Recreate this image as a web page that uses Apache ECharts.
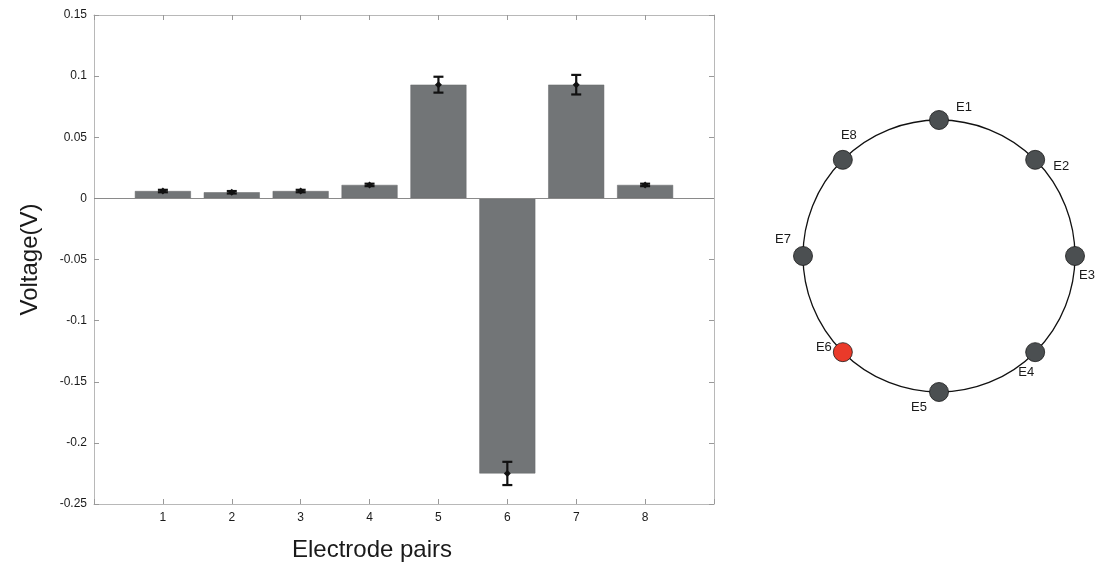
<!DOCTYPE html>
<html>
<head>
<meta charset="utf-8">
<script src="https://cdn.jsdelivr.net/npm/echarts@6/dist/echarts.min.js"></script>
<style>html,body{margin:0;padding:0;background:#fff;}#c{width:1095px;height:567px;}</style>
</head>
<body>
<div id="c"></div>
<script>
// ---- data ----
var pairs = [1, 2, 3, 4, 5, 6, 7, 8];
var voltages = [0.006, 0.005, 0.006, 0.011, 0.093, -0.225, 0.093, 0.011];
var errors = [0.001, 0.001, 0.001, 0.001, 0.0065, 0.0095, 0.008, 0.001];
var electrodeNames = ['E1', 'E2', 'E3', 'E4', 'E5', 'E6', 'E7', 'E8'];
var electrodeAngles = [0, 45, 90, 135, 180, 225, 270, 315];
var activeElectrode = 'E6';
var yTicks = [-0.25, -0.2, -0.15, -0.1, -0.05, 0, 0.05, 0.1, 0.15];

var FONT = 'Liberation Sans, Arial, Helvetica, sans-serif';
var labelOffsets = {
  E1: [25, -13], E2: [26, 7], E3: [12, 19], E4: [-9, 20],
  E5: [-20, 15], E6: [-19, -5], E7: [-20, -17], E8: [6, -24]
};

var barData = pairs.map(function (p, i) { return [p, voltages[i]]; });
var errData = pairs.map(function (p, i) { return [p, voltages[i], errors[i]]; });
var elecData = electrodeNames.map(function (n, i) {
  var active = n === activeElectrode;
  return {
    name: n,
    value: [1, electrodeAngles[i]],
    itemStyle: { color: active ? '#ea3a2a' : '#4b4f51', borderColor: '#1a1a1a', borderWidth: 0.8, opacity: 1 },
    label: { offset: labelOffsets[n] }
  };
});

var axisGray = '#b8b8b8';
var chart = echarts.init(document.getElementById('c'));
chart.setOption({
  animation: false,
  backgroundColor: '#fff',
  textStyle: { fontFamily: FONT },
  grid: { left: 94, top: 15, width: 620, height: 489, containLabel: false, outerBoundsMode: 'none' },
  xAxis: [{
    type: 'value', min: 0, max: 9, interval: 1, position: 'bottom',
    axisLine: { show: true, onZero: false, lineStyle: { color: axisGray } },
    axisTick: { show: true, inside: true, length: 5, lineStyle: { color: '#999' } },
    splitLine: { show: false },
    axisLabel: { color: '#1a1a1a', fontSize: 12, margin: 8, fontFamily: FONT,
      formatter: function (v) { return (v >= 1 && v <= 8) ? String(v) : ''; } },
    name: 'Electrode pairs', nameLocation: 'middle', nameGap: 34,
    nameTextStyle: { fontSize: 24, color: '#1a1a1a', fontFamily: FONT, padding: [0, 64, 0, 0] }
  }, {
    type: 'value', min: 0, max: 9, interval: 1, position: 'top',
    axisLine: { show: true, onZero: false, lineStyle: { color: axisGray } },
    axisTick: { show: true, inside: true, length: 5, lineStyle: { color: '#999' } },
    axisLabel: { show: false }, splitLine: { show: false }
  }],
  yAxis: [{
    type: 'value', min: -0.25, max: 0.15, interval: 0.05, position: 'left',
    axisLine: { show: true, onZero: false, lineStyle: { color: axisGray } },
    axisTick: { show: true, inside: true, length: 5, lineStyle: { color: '#999' } },
    splitLine: { show: false },
    axisLabel: { color: '#1a1a1a', fontSize: 12, margin: 7, fontFamily: FONT,
      formatter: function (v) {
        var r = Math.round(v * 100) / 100;
        return yTicks.indexOf(r) >= 0 ? String(r) : '';
      } },
    name: 'Voltage(V)', nameLocation: 'middle', nameGap: 52, nameRotate: 90,
    nameTextStyle: { fontSize: 24, color: '#1a1a1a', fontFamily: FONT }
  }, {
    type: 'value', min: -0.25, max: 0.15, interval: 0.05, position: 'right',
    axisLine: { show: true, onZero: false, lineStyle: { color: axisGray } },
    axisTick: { show: true, inside: true, length: 5, lineStyle: { color: '#999' } },
    axisLabel: { show: false }, splitLine: { show: false }
  }],
  polar: { center: [939, 256], radius: 136 },
  angleAxis: {
    type: 'value', min: 0, max: 360, startAngle: 90, clockwise: true,
    axisLine: { show: true, lineStyle: { color: '#111', width: 1.3 } },
    axisTick: { show: false }, axisLabel: { show: false }, splitLine: { show: false }
  },
  radiusAxis: {
    type: 'value', min: 0, max: 1,
    axisLine: { show: false }, axisTick: { show: false }, axisLabel: { show: false }, splitLine: { show: false }
  },
  series: [{
    type: 'bar', xAxisIndex: 0, yAxisIndex: 0, data: barData, barWidth: 56,
    itemStyle: { color: '#727577', borderColor: '#66696b', borderWidth: 0.5 },
    markLine: {
      silent: true, symbol: 'none', label: { show: false },
      lineStyle: { color: '#8a8a8a', width: 1, type: 'solid' },
      data: [{ yAxis: 0 }]
    },
    z: 2
  }, {
    type: 'custom', xAxisIndex: 0, yAxisIndex: 0, data: errData, z: 5,
    renderItem: function (params, api) {
      var x = api.value(0), m = api.value(1), e = api.value(2);
      var top = api.coord([x, m + e]);
      var bot = api.coord([x, m - e]);
      var mid = api.coord([x, m]);
      var w = 5;
      var st = { stroke: '#111', lineWidth: 2.2 };
      return {
        type: 'group',
        children: [
          { type: 'line', shape: { x1: top[0], y1: top[1], x2: bot[0], y2: bot[1] }, style: st },
          { type: 'line', shape: { x1: top[0] - w, y1: top[1], x2: top[0] + w, y2: top[1] }, style: st },
          { type: 'line', shape: { x1: bot[0] - w, y1: bot[1], x2: bot[0] + w, y2: bot[1] }, style: st },
          { type: 'polygon', shape: { points: [[mid[0], mid[1] - 3.5], [mid[0] + 3.5, mid[1]], [mid[0], mid[1] + 3.5], [mid[0] - 3.5, mid[1]]] }, style: { fill: '#111' } }
        ]
      };
    }
  }, {
    type: 'scatter', coordinateSystem: 'polar', data: elecData, symbolSize: 19, z: 5,
    itemStyle: { opacity: 1 },
    label: { show: true, position: 'inside', formatter: '{b}', color: '#1a1a1a', fontSize: 13, fontFamily: FONT }
  }]
});
</script>
</body>
</html>
